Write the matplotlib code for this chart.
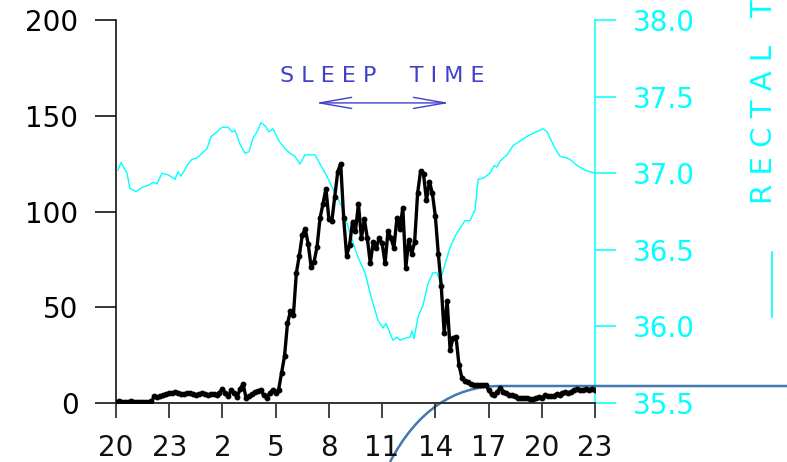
import numpy as np
import matplotlib
matplotlib.use("Agg")
import matplotlib.pyplot as plt
from matplotlib.patches import FancyArrowPatch, PathPatch
from matplotlib.path import Path
from matplotlib.lines import Line2D

# activity counts, one reading every 10 minutes starting at 20:00
activity = [
    0.5, 0.8, 0.6, 0.7, 0.5, 0.9, 0.4, 0.6, 0.3, 0.5, 0.6, 0.4, 0.8,
    3.6, 3.0, 3.5, 4.2, 4.6, 5.0, 5.2, 5.6, 5.3, 4.8, 4.6, 5.0, 5.4,
    4.8, 4.2, 4.6, 5.0, 4.6, 4.2, 4.6, 4.8, 4.2, 5.4, 7.4, 5.0, 3.6,
    6.8, 5.2, 3.2, 7.5, 9.8, 2.6, 3.4, 4.6, 5.6, 6.4, 6.8, 4.0, 2.6,
    5.2, 6.8, 5.0, 7.0, 15.6, 24.5, 41.6, 48, 46, 68, 77, 87.7, 91,
    83, 71, 73.8, 81.6, 96.5, 104, 112, 96, 95, 107.7, 120.8, 125, 96.5,
    76.8, 82.5, 94.7, 90, 104, 86, 96, 86, 73, 84, 81, 86, 83.5,
    73, 90, 86, 81, 96.5, 91, 102, 70.5, 85, 78, 84, 109.5, 121,
    119.6, 106, 115.6, 109.5, 97.6, 78, 61, 36.5, 53.4, 27.7, 34, 34.5,
    19.8, 13, 11.5, 11, 10, 9.6, 9.4, 9.4, 9.2, 9.6, 6.8, 4.5, 4.2,
    6.0, 7.8, 6.0, 5.0, 4.4, 4.0, 3.4, 2.8, 2.6, 2.8, 2.4, 2.2, 2.0,
    2.8, 3.0, 2.6, 4.0, 3.6, 3.4, 3.8, 4.6, 4.4, 5.0, 5.8, 5.0, 6.0,
    7.0, 7.2, 6.8, 7.0, 7.2, 7.0, 7.2, 6.8,
]

# rectal temperature: hours after 20:00 and degrees C
temp_hours = [
    0.11, 0.28, 0.62, 0.79, 1.13, 1.52, 1.80, 2.09, 2.31, 2.59, 2.93, 3.33,
    3.49, 3.66, 4.06, 4.28, 4.57, 4.85, 5.13, 5.36, 5.69, 5.98, 6.31, 6.54,
    6.71, 6.99, 7.27, 7.50, 7.72, 7.95, 8.17, 8.40, 8.62, 8.85, 9.19, 9.53,
    9.81, 10.09, 10.37, 10.65, 11.22, 11.50, 11.89, 12.34, 12.74, 13.19,
    13.64, 14.04, 14.43, 14.77, 15.05, 15.22, 15.61, 15.84, 16.01, 16.23,
    16.57, 16.69, 16.80, 17.02, 17.31, 17.59, 17.87, 18.09, 18.26, 18.60,
    18.88, 19.17, 19.39, 19.67, 19.95, 20.24, 20.41, 20.74, 21.08, 21.31,
    21.48, 21.65, 22.04, 22.38, 22.77, 23.17, 23.51, 24.07, 24.30, 24.75,
    25.03, 25.42, 25.59, 25.99, 26.44, 27.00,
]
temp_values = [
    37.02, 37.07, 37.00, 36.90, 36.88, 36.91, 36.92, 36.94, 36.93, 37.00,
    36.99, 36.96, 37.01, 36.98, 37.06, 37.09, 37.10, 37.13, 37.16, 37.24,
    37.27, 37.30, 37.30, 37.27, 37.28, 37.19, 37.13, 37.14, 37.23, 37.27,
    37.33, 37.31, 37.27, 37.29, 37.21, 37.16, 37.13, 37.11, 37.06, 37.12,
    37.12, 37.06, 36.98, 36.87, 36.78, 36.61, 36.45, 36.35, 36.17, 36.04,
    35.99, 36.02, 35.91, 35.93, 35.91, 35.92, 35.93, 35.97, 35.92, 36.06,
    36.14, 36.28, 36.35, 36.35, 36.29, 36.43, 36.53, 36.60, 36.64, 36.69,
    36.69, 36.76, 36.96, 36.97, 37.00, 37.05, 37.04, 37.08, 37.12, 37.18,
    37.21, 37.24, 37.26, 37.29, 37.27, 37.16, 37.11, 37.10, 37.09, 37.05,
    37.02, 37.00,
]

hour_ticks = [0, 3, 6, 9, 12, 15, 18, 21, 24, 27]
hour_labels = ["20", "23", "2", "5", "8", "11", "14", "17", "20", "23"]
left_ticks = [0, 50, 100, 150, 200]
right_ticks = [35.5, 36.0, 36.5, 37.0, 37.5, 38.0]
sleep_start, sleep_end = 11.1, 18.95

cyan = "#00ffff"
blue = "#4040cc"

fig = plt.figure(figsize=(7.87, 4.62), dpi=100)
ax = fig.add_axes([116 / 787, 1 - 403 / 462, 479 / 787, 383 / 462])
ax2 = ax.twinx()

hours = np.arange(len(activity)) / 6.0
ax.plot(hours, activity, color="black", lw=2.4, marker="o", ms=3.2, zorder=3)
ax2.plot(temp_hours, temp_values, color=cyan, lw=1.0)

ax.set_zorder(ax2.get_zorder() + 1)
ax.patch.set_visible(False)

ax.set_xlim(0, 27)
ax.set_ylim(0, 200)
ax2.set_ylim(35.5, 38.0)

ax.set_xticks(hour_ticks)
ax.set_xticklabels(hour_labels)
ax.set_yticks(left_ticks)
ax2.set_yticks(right_ticks)
ax2.set_yticklabels([f"{v:.1f}" for v in right_ticks])

for a in (ax, ax2):
    a.spines["top"].set_visible(False)
ax.spines["right"].set_visible(False)
ax2.spines["left"].set_visible(False)
ax2.spines["bottom"].set_visible(False)
ax.spines["left"].set_linewidth(1.1)
ax.spines["bottom"].set_linewidth(1.4)
ax.spines["bottom"].set_color("#333333")
ax2.spines["right"].set_color(cyan)
ax2.spines["right"].set_linewidth(1.1)

ax.tick_params(axis="y", direction="out", length=15, width=1.1, pad=12,
               labelsize=20, colors="black")
ax.tick_params(axis="x", direction="out", length=11, width=1.1, pad=11,
               labelsize=20, colors="#111111")
ax2.tick_params(axis="y", direction="out", length=15, width=1.1, pad=12,
                labelsize=20, colors=cyan)

# sleep time annotation
ax.text((sleep_start + sleep_end) / 2, 171,
        "S L E E P\u2003\u2002T I M E",
        color=blue, fontsize=16, ha="center", va="center")
ax.add_patch(FancyArrowPatch((sleep_start, 156.7), (sleep_end, 156.7),
                             arrowstyle="<->,head_length=2.3,head_width=0.4",
                             mutation_scale=10, color=blue, lw=1.0))

# right axis title (runs off the top of the picture, as in the source)
fig.text(763.5 / 787, 1 - 204 / 462, "R E C T A L   T E M P E R A T U R E",
         rotation=90, ha="center", va="bottom", color=cyan, fontsize=21)
fig.add_artist(Line2D([771.7 / 787, 771.7 / 787], [1 - 252 / 462, 1 - 317 / 462],
                      transform=fig.transFigure, color=cyan, lw=1.2))

# watermark stroke over the lower right corner
verts = [(390 / 787, 0.0), (430 / 787, 1 - 386 / 462), (500 / 787, 1 - 386 / 462),
         (1.0, 1 - 386 / 462)]
codes = [Path.MOVETO, Path.CURVE3, Path.CURVE3, Path.LINETO]
fig.add_artist(PathPatch(Path(verts, codes), transform=fig.transFigure,
                         fill=False, edgecolor="#2f6aa6", lw=1.8, alpha=0.9))

fig.savefig("out.png", dpi=100)
